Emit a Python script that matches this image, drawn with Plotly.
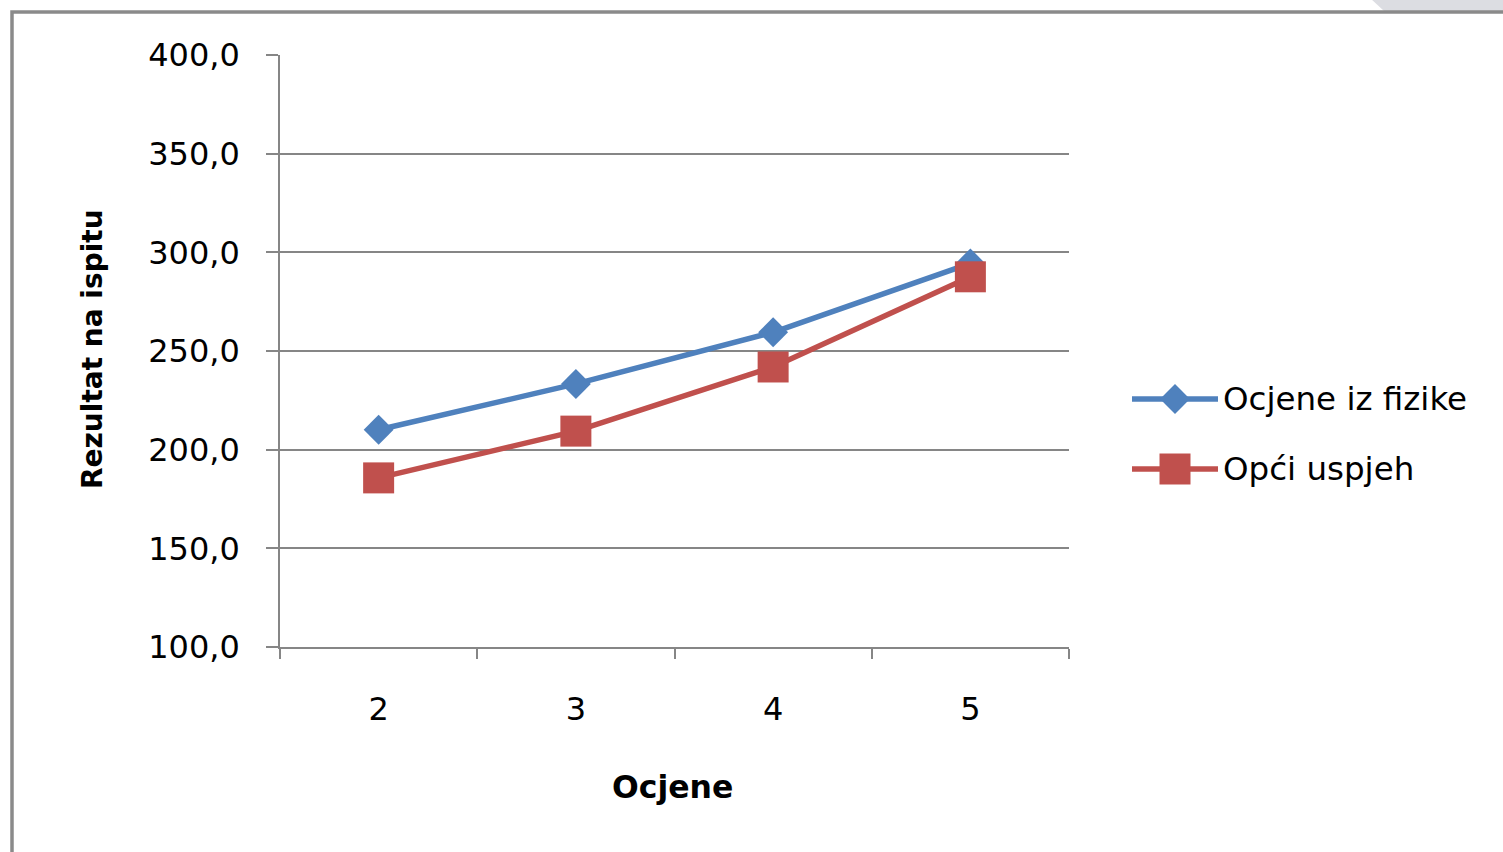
import plotly.graph_objects as go

# Exam results by grade
grades = ["2", "3", "4", "5"]
fizika = [210.1, 233.3, 259.5, 294.4]
uspjeh = [185.7, 209.4, 241.9, 287.6]
series_names = ["Ocjene iz fizike", "Opći uspjeh"]
y_ticks = [100, 150, 200, 250, 300, 350, 400]

W, H = 1503, 852
BLUE = "#4F81BD"
RED = "#C0504D"
GRID = "#868686"
FONT = "DejaVu Sans"
LINE_W = 5.5


def px_x(p):
    return p / W


def px_y(p):
    return 1 - p / H


fig = go.Figure()

fig.add_trace(go.Scatter(
    x=grades, y=fizika, name=series_names[0], mode="lines+markers",
    line=dict(color=BLUE, width=LINE_W),
    marker=dict(symbol="diamond", size=23, color=BLUE),
    xaxis="x", yaxis="y", showlegend=False, cliponaxis=False,
))
fig.add_trace(go.Scatter(
    x=grades, y=uspjeh, name=series_names[1], mode="lines+markers",
    line=dict(color=RED, width=LINE_W),
    marker=dict(symbol="square", size=31, color=RED),
    xaxis="x", yaxis="y", showlegend=False, cliponaxis=False,
))

# Legend keys drawn on their own small axes
legend_colors = [BLUE, RED]
legend_symbols = ["diamond", "square"]
legend_sizes = [23, 31]
legend_rows = [1, 0]
for name, col, sym, sz, row in zip(series_names, legend_colors, legend_symbols,
                                   legend_sizes, legend_rows):
    fig.add_trace(go.Scatter(
        x=[0, 1], y=[row, row], mode="lines",
        line=dict(color=col, width=LINE_W),
        xaxis="x2", yaxis="y2", showlegend=False, hoverinfo="skip",
        cliponaxis=False,
    ))
    fig.add_trace(go.Scatter(
        x=[0.5], y=[row], mode="markers",
        marker=dict(symbol=sym, size=sz, color=col, opacity=1),
        xaxis="x2", yaxis="y2", showlegend=False, hoverinfo="skip",
        cliponaxis=False,
    ))

annotations = []
for name, row in zip(series_names, legend_rows):
    annotations.append(dict(
        x=1.0, y=row, xref="x2", yref="y2", text=name, showarrow=False,
        xanchor="left", yanchor="middle", xshift=3,
        font=dict(family=FONT, size=32.5, color="#000000"),
    ))

# Axis titles
annotations.append(dict(
    x=px_x(672), y=px_y(787), xref="paper", yref="paper", text="<b>Ocjene</b>",
    showarrow=False, xanchor="center", yanchor="middle",
    font=dict(family=FONT, size=31.5, color="#000000"),
))
annotations.append(dict(
    x=px_x(92), y=px_y(349), xref="paper", yref="paper",
    text="<b>Rezultat na ispitu</b>", textangle=-90,
    showarrow=False, xanchor="center", yanchor="middle",
    font=dict(family=FONT, size=28, color="#000000"),
))

shapes = [
    # light corner patch at the top right
    dict(type="path", xref="paper", yref="paper", layer="below",
         path=f"M {px_x(1370)},{px_y(-2)} L {px_x(1510)},{px_y(-2)} "
              f"L {px_x(1510)},{px_y(11)} L {px_x(1384)},{px_y(11)} Z",
         fillcolor="#DCDDE2", line=dict(width=0)),
    # outer chart frame
    dict(type="path", xref="paper", yref="paper", layer="above",
         path=f"M {px_x(12)},{px_y(880)} L {px_x(12)},{px_y(12)} L {px_x(1530)},{px_y(12)}",
         line=dict(color="#8A8A8A", width=3.5)),
]

fig.update_layout(
    width=W, height=H,
    margin=dict(l=0, r=0, t=0, b=0, pad=0, autoexpand=False),
    paper_bgcolor="white", plot_bgcolor="white",
    separators=",.",
    showlegend=False,
    font=dict(family=FONT, color="#000000"),
    xaxis=dict(
        domain=[px_x(280), px_x(1069)],
        type="category", categoryorder="array", categoryarray=grades,
        range=[-0.5, 3.5], tickson="boundaries",
        showline=True, linecolor=GRID, linewidth=1.6,
        ticks="outside", ticklen=10, tickcolor=GRID, tickwidth=1.6,
        showgrid=False, zeroline=False, automargin=False,
        tickfont=dict(family=FONT, size=32, color="#000000"),
        ticklabelstandoff=33, anchor="y",
    ),
    yaxis=dict(
        domain=[px_y(647), px_y(55)],
        range=[100, 400], tickvals=y_ticks, tickformat=".1f",
        showline=True, linecolor=GRID, linewidth=1.6,
        ticks="outside", ticklen=12, tickcolor=GRID, tickwidth=1.6,
        showgrid=True, gridcolor=GRID, gridwidth=1.5, zeroline=False,
        automargin=False,
        tickfont=dict(family=FONT, size=32, color="#000000"),
        ticklabelstandoff=20, anchor="x",
    ),
    xaxis2=dict(
        domain=[px_x(1132), px_x(1218)], range=[0, 1], visible=False,
        anchor="y2", fixedrange=True, automargin=False,
    ),
    yaxis2=dict(
        domain=[px_y(504), px_y(364)], range=[-0.5, 1.5], visible=False,
        anchor="x2", fixedrange=True, automargin=False,
    ),
    annotations=annotations,
    shapes=shapes,
)

fig.write_html("out.html")
